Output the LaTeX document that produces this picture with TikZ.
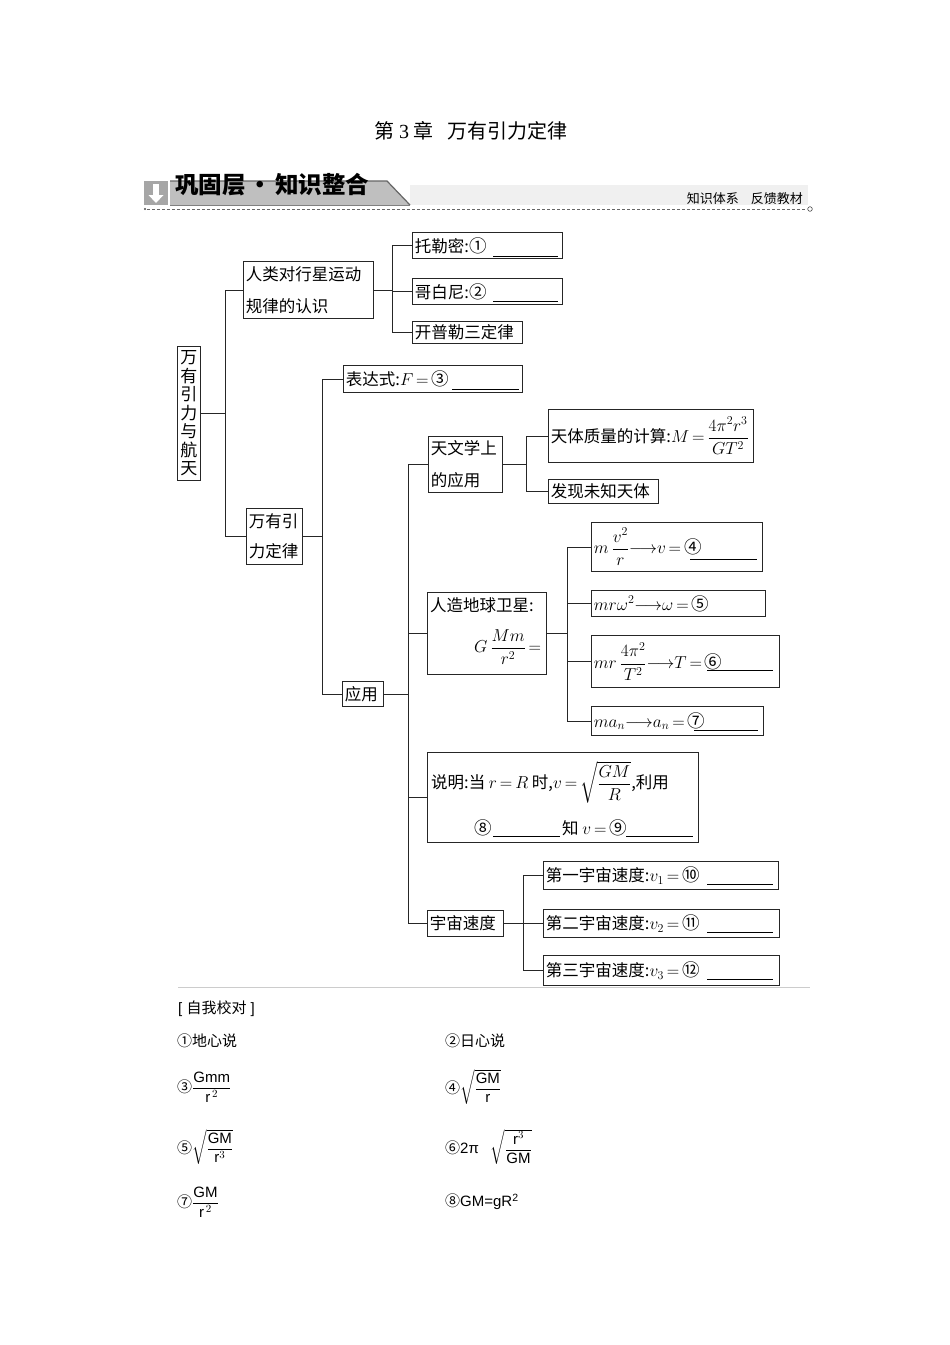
\documentclass[tikz,border=0pt]{standalone}
\usepackage{amsmath}
\usepackage{fontspec}
\setmainfont{Liberation Serif}
\setsansfont{Liberation Sans}
\newfontfamily\cjk{Noto Sans CJK SC}
\usetikzlibrary{shadows}
\newcommand\cn[1]{{\cjk #1}}
\newcommand\cnb[1]{{\cjk\fontsize{17.5}{20}\selectfont #1}}
\newcommand\bx{\cjk\fontsize{16.5}{20}\selectfont}
\newcommand\bxtwo{\cjk\fontsize{16.5}{32}\selectfont}
\newcommand\ans{\sffamily\fontsize{15}{17}\selectfont}
\newcommand\teq{\,{=}\,}
\newcommand\tarr{{\longrightarrow}}
\begin{document}
\begin{tikzpicture}[x=1pt,y=-1pt,
  box/.style={draw=black!85, line width=0.9pt, fill=white, anchor=north west,
    inner xsep=2.5pt, inner ysep=0pt, align=left, font=\bx,
    drop shadow={shadow xshift=0.9pt, shadow yshift=-0.9pt, fill=black!80, opacity=1}},
  lbl/.style={anchor=west, inner sep=0pt, font=\bx},
  conn/.style={draw=black!85, line width=0.9pt},
  blank/.style={draw=black, line width=0.8pt},
  anstext/.style={anchor=west, inner sep=0pt, font=\ans}]
\fill[white] (0,0) rectangle (950,1345);
\useasboundingbox (0,0) rectangle (950,1345);

% title
\node[font=\cjk\fontsize{20}{20}\selectfont] (title) at (471,131) {第 {\rmfamily 3} 章\hspace{14pt}万有引力定律};

% header
\fill[black!6] (410,185) rectangle (808,205);
\fill[black!35] (144,181) rectangle (168,205);
\fill[white] (153,184) rectangle (159,195);
\fill[white] (148.5,195) -- (163.5,195) -- (156,203) -- cycle;
\fill[black!25] (170,181) -- (387,181) -- (410,205) -- (170,205) -- cycle;
\draw[black!60, line width=1.2pt] (170,181) -- (387,181) -- (410,205);
\draw[black!50, line width=0.8pt] (170,205) -- (410,205);
\node[anchor=west, inner sep=0pt, font=\cjk\bfseries\fontsize{23.5}{23.5}\selectfont] (hdr) at (175,185) {巩固层\hspace{3pt}·\hspace{3pt}知识整合};
\node[anchor=east, inner sep=0pt, font=\cjk\fontsize{13}{13}\selectfont] (hdr2) at (803,199) {知识体系\hspace{12pt}反馈教材};
\draw[black!60, dash pattern=on 3pt off 2pt, line width=0.8pt] (147,209) -- (806,209);
\fill[black!70] (145,209) circle (1.2);
\draw[black!70, line width=0.6pt] (810,209) circle (2.3);

% boxes
\node[box, text width=17pt, align=center, minimum height=134pt, inner xsep=3pt,
  font=\cjk\fontsize{17}{18.5}\selectfont] (root) at (177,346) {万\\有\\引\\力\\与\\航\\天};
\node[box, text width=125pt, minimum height=57pt, font=\bxtwo] (renlei) at (243,261) {人类对行星运动\\规律的认识};
\node[box, text width=145pt, minimum height=26pt] (tlm) at (412,232) {托勒密:\cnb{①}};
\node[box, text width=145pt, minimum height=26pt] (gbn) at (412,278) {哥白尼:\cnb{②}};
\node[box, text width=105pt, minimum height=22pt] (kpl) at (412,321) {开普勒三定律};
\node[box, text width=51pt, minimum height=56pt, font=\cjk\fontsize{16.5}{30}\selectfont] (wyyl) at (246,508) {万有引\\力定律};
\node[box, text width=174pt, minimum height=27pt] (bds) at (343,365) {表达式:$F\teq$\cnb{③}};
\node[box, text width=36pt, minimum height=25pt] (yy) at (342,681) {应用};
\node[box, text width=69pt, minimum height=56pt, font=\bxtwo] (twx) at (428,436) {天文学上\\的应用};
\node[box, text width=200pt, minimum height=53pt] (ttzl) at (548,409) {\mbox{天体质量的计算:$M\teq\dfrac{4\pi^2r^3}{GT^2}$}};
\node[box, text width=105pt, minimum height=24pt] (fx) at (548,479) {发现未知天体};
\node[box, minimum width=119pt, minimum height=82pt] (rzdq) at (427,592) {};
\node[lbl] (rzdqa) at (430,605) {人造地球卫星:};
\node[lbl] (rzdqb) at (474,647) {$G\,\dfrac{Mm}{r^2}\teq$};
\node[box, text width=166pt, minimum height=49pt] (nv) at (591,522) {\mbox{$m\,\dfrac{v^2}{r}\tarr v\teq$\cnb{④}}};
\node[box, text width=169pt, minimum height=26pt] (nw) at (591,590) {\mbox{$mr\omega^2\tarr\omega\teq$\cnb{⑤}}};
\node[box, text width=183pt, minimum height=52pt] (nT) at (591,635) {\mbox{$mr\,\dfrac{4\pi^2}{T^2}\tarr T\teq$\cnb{⑥}}};
\node[box, text width=167pt, minimum height=29pt] (na) at (591,706) {\mbox{$ma_n\tarr a_n\teq$\cnb{⑦}}};
\node[box, minimum width=271pt, minimum height=90pt] (sm) at (427,752) {};
\node[lbl] (sma) at (431,782) {说明:当 $r\teq R$ 时,$v\teq\sqrt{\dfrac{GM}{R}}$,利用};
\node[lbl] (smb) at (474,828) {\cnb{⑧}};
\node[lbl] (smc) at (562,828) {知 $v\teq$\cnb{⑨}};
\node[box, text width=71pt, minimum height=26pt] (yzsd) at (427,910) {宇宙速度};
\node[box, text width=230pt, minimum height=28pt] (v1s) at (543,861) {第一宇宙速度:$v_1\teq$\cnb{⑩}};
\node[box, text width=231pt, minimum height=28pt] (v2s) at (543,909) {第二宇宙速度:$v_2\teq$\cnb{⑪}};
\node[box, text width=231pt, minimum height=30pt] (v3s) at (543,955) {第三宇宙速度:$v_3\teq$\cnb{⑫}};

% blanks
\draw[blank] (493,256) -- (558,256);
\draw[blank] (493,301) -- (558,301);
\draw[blank] (452,389) -- (519,389);
\draw[blank] (690,559) -- (757,559);
\draw[blank] (707,670) -- (773,670);
\draw[blank] (694,730) -- (758,730);
\draw[blank] (493,836) -- (560,836);
\draw[blank] (626,836) -- (693,836);
\draw[blank] (707,884) -- (773,884);
\draw[blank] (707,932) -- (773,932);
\draw[blank] (707,979) -- (773,979);

% spines
\coordinate (s1) at (225,0);
\coordinate (s2) at (392,0);
\coordinate (s3) at (322,0);
\coordinate (s4) at (408,0);
\coordinate (s5) at (526,0);
\coordinate (s6) at (567,0);
\coordinate (s7) at (523,0);

\draw[conn] (root.east) -- (root.east -| s1);
\draw[conn] (renlei.west) -- (renlei.west -| s1) -- (wyyl.west -| s1) -- (wyyl.west);
\draw[conn] (renlei.east) -- (renlei.east -| s2);
\draw[conn] (tlm.west) -- (tlm.west -| s2) -- (kpl.west -| s2) -- (kpl.west);
\draw[conn] (gbn.west) -- (gbn.west -| s2);
\draw[conn] (wyyl.east) -- (wyyl.east -| s3);
\draw[conn] (bds.west) -- (bds.west -| s3) -- (yy.west -| s3) -- (yy.west);
\draw[conn] (yy.east) -- (yy.east -| s4);
\draw[conn] (twx.west) -- (twx.west -| s4) -- (yzsd.west -| s4) -- (yzsd.west);
\draw[conn] (rzdq.west) -- (rzdq.west -| s4);
\draw[conn] (sm.west) -- (sm.west -| s4);
\draw[conn] (twx.east) -- (twx.east -| s5);
\draw[conn] (ttzl.west) -- (ttzl.west -| s5) -- (fx.west -| s5) -- (fx.west);
\draw[conn] (rzdq.east) -- (rzdq.east -| s6);
\draw[conn] (nv.west) -- (nv.west -| s6) -- (na.west -| s6) -- (na.west);
\draw[conn] (nw.west) -- (nw.west -| s6);
\draw[conn] (nT.west) -- (nT.west -| s6);
\draw[conn] (yzsd.east) -- (yzsd.east -| s7);
\draw[conn] (v1s.west) -- (v1s.west -| s7) -- (v3s.west -| s7) -- (v3s.west);
\draw[conn] (v2s.west) -- (v2s.west -| s7);

% separator
\draw[black!20, line width=0.6pt] (178,987) -- (810,987);

% answers
\node[anstext] (zw) at (178,1009) {[\ {\cjk 自我校对}\ ]};
\node[anstext] (a1) at (177,1041) {\cn{①}{\cjk 地心说}};
\node[anstext] (a2) at (445,1041) {\cn{②}{\cjk 日心说}};
\node[anstext] (a3) at (177,1087) {\cn{③}$\dfrac{\text{Gmm}}{\text{r}^{\,2}}$};
\node[anstext] (a4) at (445,1087) {\cn{④}$\sqrt{\dfrac{\text{GM}}{\text{r}}}$};
\node[anstext] (a5) at (177,1147) {\cn{⑤}$\sqrt{\dfrac{\text{GM}}{\text{r}^{3}}}$};
\node[anstext] (a6) at (445,1147) {\cn{⑥}2π\hspace{12pt}$\sqrt{\dfrac{\text{r}^{3}}{\text{GM}}}$};
\node[anstext] (a7) at (177,1202) {\cn{⑦}$\dfrac{\text{GM}}{\text{r}^{\,2}}$};
\node[anstext] (a8) at (445,1202) {\cn{⑧}GM=gR\textsuperscript{2}};
\end{tikzpicture}
\end{document}
